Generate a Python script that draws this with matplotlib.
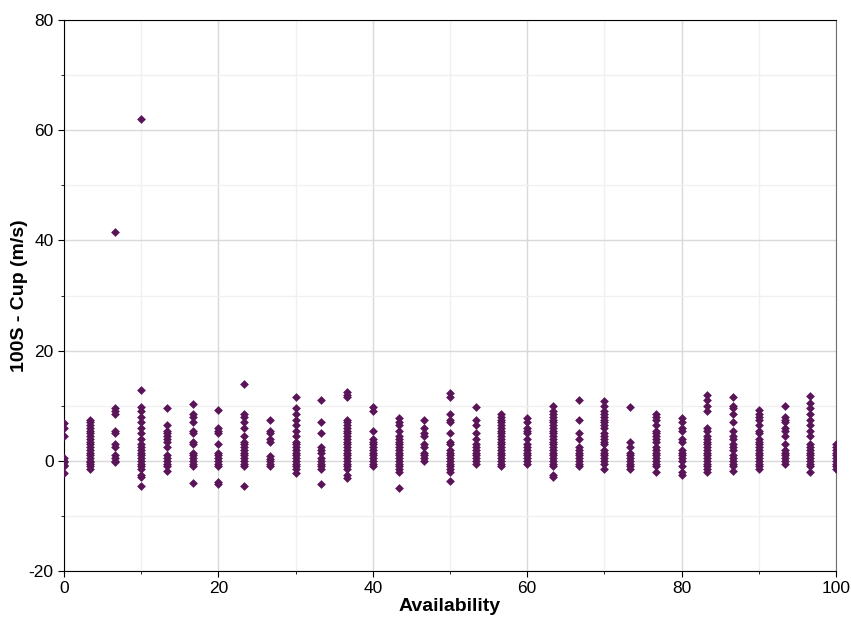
import matplotlib.pyplot as plt
import numpy as np
from matplotlib.ticker import MultipleLocator

plt.rcParams['font.family'] = ['Liberation Sans', 'DejaVu Sans']
plt.rcParams['axes.unicode_minus'] = False

# availability levels (k/30 * 100) and the 100S - Cup values seen in each column
availability = [k * 100 / 30 for k in range(31)]
cup_values = [
    [6.8, 6.0, 4.5, 0.5, 0.0, -0.3, -0.8, -1.0, -2.2],
    [7.5, 7.0, 6.5, 6.0, 5.5, 5.0, 4.5, 4.0, 3.5, 3.0, 2.5, 2.0, 1.5, 1.0, 0.5, 0.0, -0.3, -0.6, -1.0, -1.5],
    [41.5, 9.5, 9.0, 8.5, 5.5, 5.0, 3.0, 2.5, 1.0, 0.5, 0.0, -0.3],
    [62.0, 12.8, 9.8, 9.0, 8.0, 7.0, 6.0, 5.0, 4.0, 3.0, 2.5, 2.0, 1.5, 1.0, 0.5, 0.0, -0.5, -1.0, -1.5, -2.5, -3.0, -4.6],
    [9.5, 6.5, 5.5, 5.0, 4.5, 4.0, 3.5, 2.5, 1.0, 0.5, 0.0, -0.5, -1.0, -1.8],
    [10.3, 8.5, 8.0, 7.0, 5.5, 5.0, 3.5, 3.0, 1.5, 1.0, 0.5, 0.0, -0.5, -1.0, -4.0],
    [9.3, 6.0, 5.5, 5.0, 3.0, 1.5, 1.0, 0.5, 0.0, -0.5, -1.0, -3.8, -4.2],
    [14.0, 8.5, 8.0, 7.0, 6.0, 4.5, 3.5, 3.0, 2.5, 2.0, 1.5, 1.0, 0.5, 0.0, -0.5, -1.0, -4.5],
    [7.5, 5.5, 5.0, 4.0, 3.5, 0.8, 0.3, 0.0, -0.5, -1.0],
    [11.5, 9.5, 8.5, 7.5, 6.5, 5.5, 4.5, 3.5, 3.0, 2.5, 2.0, 1.5, 1.0, 0.5, 0.0, -0.5, -1.0, -1.5, -2.2],
    [11.0, 7.0, 5.0, 2.5, 2.0, 1.5, 0.5, 0.0, -0.5, -1.0, -1.5, -4.2],
    [12.5, 12.0, 11.5, 7.5, 7.0, 6.5, 6.0, 5.5, 5.0, 4.5, 4.0, 3.5, 3.0, 2.5, 2.0, 1.5, 1.0, 0.5, 0.0, -0.5, -1.0, -1.5, -2.5, -3.2],
    [9.8, 9.0, 5.5, 4.0, 3.5, 3.0, 2.5, 2.0, 1.5, 1.0, 0.5, 0.0, -0.5, -1.0],
    [7.8, 7.0, 6.5, 5.5, 4.5, 4.0, 3.5, 3.0, 2.5, 2.0, 1.5, 1.0, 0.5, 0.0, -0.5, -1.0, -1.5, -2.0, -5.0],
    [7.5, 6.0, 5.0, 4.5, 3.0, 2.5, 1.5, 1.0, 0.5, 0.0],
    [12.3, 11.5, 8.5, 7.5, 7.0, 5.0, 3.5, 3.0, 2.0, 1.5, 1.0, 0.5, 0.0, -0.5, -1.0, -1.5, -2.0, -3.6],
    [9.8, 7.5, 6.5, 5.0, 4.0, 3.0, 2.5, 2.0, 1.5, 1.0, 0.5, 0.0, -0.5],
    [8.5, 8.0, 7.5, 7.0, 6.5, 6.0, 5.5, 5.0, 4.5, 4.0, 3.5, 3.0, 2.5, 2.0, 1.5, 1.0, 0.5, 0.0, -0.5, -1.0],
    [7.8, 7.0, 6.0, 5.5, 5.0, 4.0, 3.0, 2.5, 2.0, 1.5, 1.0, 0.5, 0.0, -0.5],
    [10.0, 9.0, 8.5, 8.0, 7.5, 7.0, 6.5, 6.0, 5.5, 5.0, 4.5, 4.0, 3.5, 3.0, 2.5, 2.0, 1.5, 1.0, 0.5, 0.0, -0.5, -1.0, -2.5, -3.0],
    [11.0, 7.5, 5.0, 4.0, 2.5, 2.0, 1.5, 1.0, 0.5, 0.0, -0.5, -1.0],
    [10.8, 10.0, 9.0, 8.5, 8.0, 7.5, 7.0, 6.5, 6.0, 5.0, 4.5, 4.0, 3.5, 3.0, 2.0, 1.5, 1.0, 0.5, 0.0, -0.5, -1.5],
    [9.8, 3.5, 2.5, 1.5, 1.0, 0.5, 0.0, -0.5, -1.0, -1.5],
    [8.5, 8.0, 7.5, 6.5, 5.5, 5.0, 4.5, 4.0, 3.5, 2.5, 2.0, 1.5, 1.0, 0.5, 0.0, -0.5, -1.0, -2.0],
    [7.8, 7.0, 6.0, 5.5, 4.0, 3.5, 2.0, 1.5, 1.0, 0.5, 0.0, -1.0, -2.0, -2.5],
    [12.0, 11.0, 10.0, 9.0, 6.0, 5.5, 4.5, 4.0, 3.5, 3.0, 2.5, 2.0, 1.5, 1.0, 0.5, 0.0, -0.5, -1.0, -1.5, -2.0],
    [11.5, 10.0, 9.5, 8.5, 7.0, 5.5, 4.5, 4.0, 3.0, 2.5, 2.0, 1.0, 0.5, 0.0, -0.5, -1.0, -1.8],
    [9.2, 8.5, 8.0, 7.5, 6.5, 5.5, 5.0, 4.0, 3.5, 3.0, 2.5, 2.0, 1.5, 1.0, 0.5, 0.0, -0.5, -1.0, -1.5],
    [10.0, 8.0, 7.5, 7.0, 6.0, 5.5, 4.5, 3.0, 2.0, 1.5, 1.0, 0.5, 0.0, -0.5],
    [11.8, 10.5, 9.5, 8.5, 7.5, 6.5, 5.5, 4.5, 3.0, 2.5, 2.0, 1.5, 1.0, 0.5, 0.0, -0.5, -1.0, -2.0],
    [3.0, 2.5, 2.0, 1.5, 1.0, 0.5, 0.0, -0.5, -1.0, -1.5],
]

xs = np.concatenate([[a] * len(v) for a, v in zip(availability, cup_values)])
ys = np.concatenate(cup_values)

fig = plt.figure(figsize=(8.51, 6.18), dpi=100)
ax = fig.add_axes([0.0752, 0.076, 0.9072, 0.8916])

ax.scatter(xs, ys, marker='D', s=20, color='#5a1458', linewidths=0, zorder=3)

ax.set_xlim(0, 100)
ax.set_ylim(-20, 80)
ax.xaxis.set_major_locator(MultipleLocator(20))
ax.xaxis.set_minor_locator(MultipleLocator(10))
ax.yaxis.set_major_locator(MultipleLocator(20))
ax.yaxis.set_minor_locator(MultipleLocator(10))

ax.grid(which='major', color='#d9d9d9', linewidth=1.0, zorder=0)
ax.grid(which='minor', color='#f0f0f0', linewidth=1.0, zorder=0)
ax.set_axisbelow(True)

ax.tick_params(which='major', length=4, labelsize=12.5, colors='black')
ax.tick_params(which='minor', length=2)

for side in ['left', 'bottom', 'top']:
    ax.spines[side].set_color('black')
ax.spines['right'].set_color('#707070')

ax.set_xlabel('Availability', fontsize=14, fontweight='bold', labelpad=1)
ax.set_ylabel('100S - Cup (m/s)', fontsize=14, fontweight='bold')
ax.yaxis.set_label_coords(-0.047, 0.5)

fig.savefig('out.png', dpi=100)
